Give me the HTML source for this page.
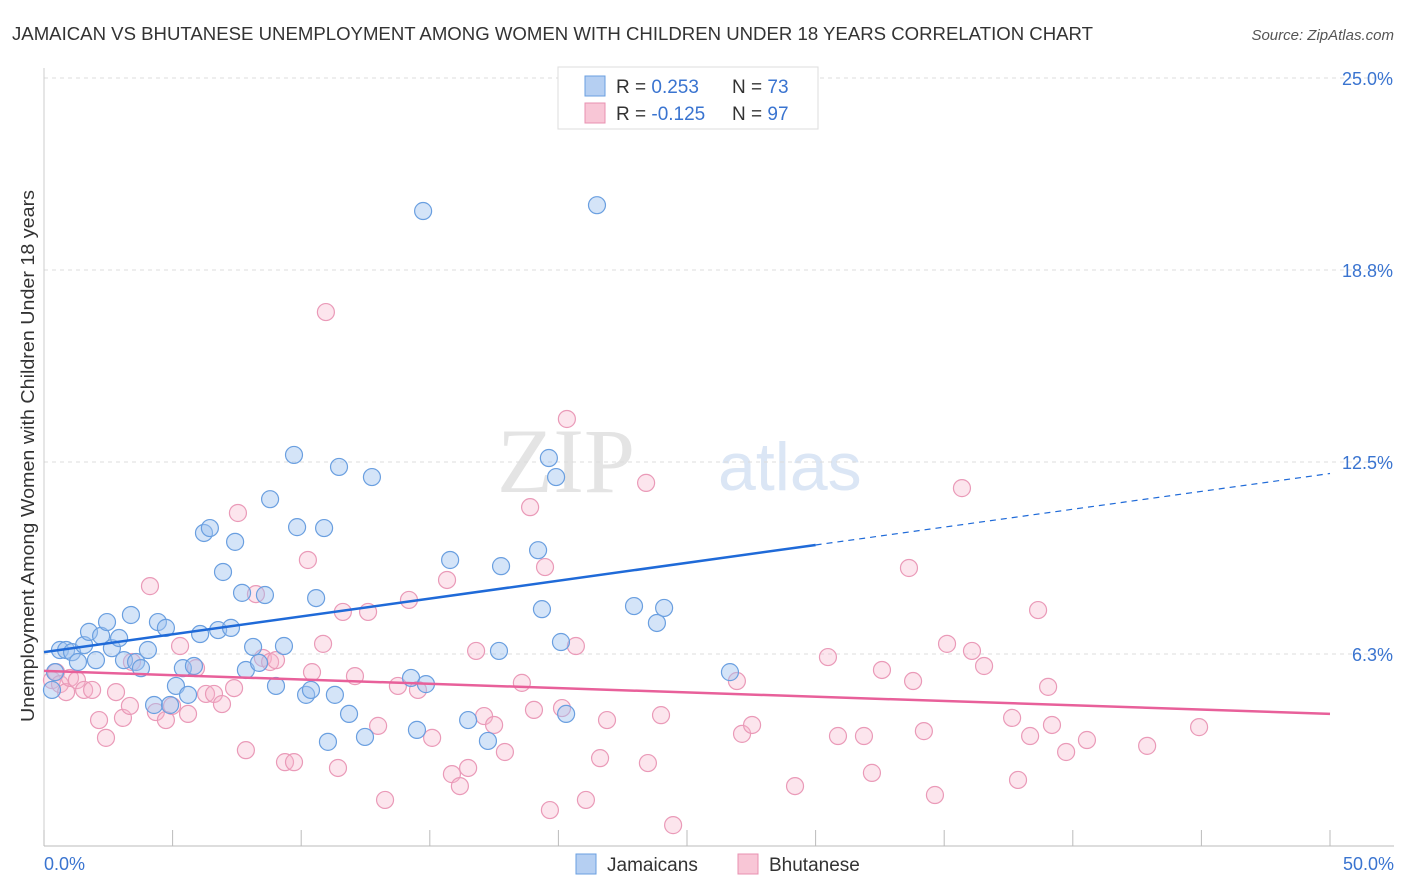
<!DOCTYPE html>
<html><head><meta charset="utf-8">
<style>
body{margin:0;background:#fff;font-family:"Liberation Sans",sans-serif;}
svg{display:block}
</style></head>
<body>
<svg id="chart" width="1406" height="892">
<text x="12" y="40" font-size="18" fill="#333" textLength="1081" lengthAdjust="spacingAndGlyphs">JAMAICAN VS BHUTANESE UNEMPLOYMENT AMONG WOMEN WITH CHILDREN UNDER 18 YEARS CORRELATION CHART</text>
<text x="1394" y="40" font-size="15" fill="#555" text-anchor="end" font-style="italic">Source: ZipAtlas.com</text>
<text x="635" y="492" font-size="92" fill="#e4e4e4" text-anchor="end" font-family="Liberation Serif,serif">ZIP</text>
<text x="718" y="490" font-size="68" fill="#dbe6f5">atlas</text>
<text x="0" y="0" transform="translate(34,456) rotate(-90)" font-size="18" fill="#333" text-anchor="middle" textLength="532" lengthAdjust="spacingAndGlyphs">Unemployment Among Women with Children Under 18 years</text>
<g id="grid"></g><g id="marks"></g>
<g>
<rect x="558" y="67" width="260" height="62" fill="#fff" stroke="#ddd"/>
<rect x="585" y="76" width="20" height="20" fill="#b5cff2" stroke="#6a9fe0"/>
<rect x="585" y="103" width="20" height="20" fill="#f8c6d6" stroke="#e890b0"/>
<text x="616" y="93" font-size="19" fill="#333">R = <tspan fill="#3a74d0"> 0.253</tspan><tspan x="732">N = </tspan><tspan fill="#3a74d0">73</tspan></text>
<text x="616" y="120" font-size="19" fill="#333">R = <tspan fill="#3a74d0">-0.125</tspan><tspan x="732">N = </tspan><tspan fill="#3a74d0">97</tspan></text>
</g>
<g>
<rect x="576" y="854" width="20" height="20" fill="#b5cff2" stroke="#6a9fe0"/>
<text x="607" y="871" font-size="19" fill="#333">Jamaicans</text>
<rect x="738" y="854" width="20" height="20" fill="#f8c6d6" stroke="#e890b0"/>
<text x="769" y="871" font-size="19" fill="#333">Bhutanese</text>
</g>
</svg>
<script>
const yTicks=[6.25,12.5,18.75,25];
const yTickLabels=["6.3%","12.5%","18.8%","25.0%"];
const xTickLabels=["0.0%","50.0%"];
const jamX=[0.31,0.43,0.62,0.86,1.09,1.32,1.56,1.75,2.02,2.22,2.45,2.64,2.92,3.11,3.38,3.58,3.77,4.04,4.28,4.43,4.74,4.90,5.13,5.40,5.60,5.83,6.07,6.22,6.45,6.77,6.96,7.27,7.43,7.70,7.85,8.13,8.36,8.59,8.79,9.02,9.33,9.72,9.84,10.19,10.38,10.58,10.89,11.04,11.31,11.47,11.86,12.48,12.75,14.27,14.50,14.74,14.85,15.79,16.49,17.26,17.69,17.77,19.21,19.36,19.63,19.91,20.10,20.30,21.50,22.94,23.83,24.11,26.67];
const jamY=[5.08,5.66,6.38,6.38,6.31,5.99,6.54,6.97,6.05,6.84,7.29,6.44,6.77,6.05,7.52,5.99,5.79,6.38,4.59,7.29,7.10,4.59,5.21,5.79,4.92,5.86,6.90,10.19,10.35,7.03,8.92,7.10,9.90,8.24,5.73,6.48,5.96,8.17,11.29,5.21,6.51,12.73,10.38,4.92,5.08,8.07,10.35,3.39,4.92,12.34,4.30,3.55,12.01,5.47,3.78,20.67,5.27,9.31,4.10,3.42,6.35,9.11,9.63,7.71,12.63,12.01,6.64,4.30,20.86,7.81,7.26,7.75,5.66];
const bhuX=[0.31,0.47,0.62,0.86,1.01,1.28,1.56,1.87,2.14,2.41,2.80,3.07,3.34,3.42,4.12,4.35,4.74,4.98,5.29,5.60,5.91,6.30,6.61,6.92,7.39,7.54,7.85,8.24,8.51,8.79,9.02,9.37,9.72,10.26,10.42,10.85,10.96,11.43,11.62,12.09,12.60,12.99,13.26,13.76,14.19,14.54,15.09,15.67,15.86,16.17,16.49,16.80,17.11,17.50,17.92,18.58,18.90,19.05,19.48,19.67,20.14,20.33,20.68,21.07,21.62,21.89,23.41,23.48,23.99,24.46,26.94,27.14,27.53,29.20,30.48,30.87,31.88,32.19,32.58,33.63,33.79,34.21,34.64,35.11,35.69,36.08,36.55,37.64,37.87,38.34,38.65,39.04,39.19,39.74,40.55,42.89,44.91];
const bhuY=[5.40,5.66,5.27,5.01,5.47,5.40,5.08,5.08,4.10,3.52,5.01,4.17,4.56,5.99,8.46,4.36,4.10,4.56,6.51,4.30,5.79,4.95,4.95,4.62,5.14,10.84,3.12,8.20,6.12,5.99,6.05,2.73,2.73,9.31,5.66,6.58,17.38,2.54,7.62,5.53,7.62,3.91,1.50,5.21,8.01,5.08,3.52,8.66,2.34,1.95,2.54,6.35,4.23,3.94,3.06,5.31,11.03,4.43,9.08,1.17,4.49,13.90,6.51,1.50,2.86,4.10,11.82,2.70,4.26,0.68,5.37,3.65,3.94,1.95,6.15,3.58,3.58,2.38,5.73,9.05,5.37,3.74,1.66,6.58,11.65,6.35,5.86,4.17,2.15,3.58,7.68,5.18,3.94,3.06,3.45,3.26,3.87];
const jamTrend=[6.31,0.1163];
const bhuTrend=[5.70,-0.028];

const NS="http://www.w3.org/2000/svg";
const X0=44,X1=1330,Y0=846,YTOP=78;
const sx=v=>X0+(v/50)*(X1-X0);
const sy=v=>Y0-(v/25)*(Y0-YTOP);
function mk(tag,attrs,parent){const e=document.createElementNS(NS,tag);for(const k in attrs)e.setAttribute(k,attrs[k]);parent.appendChild(e);return e;}
const grid=document.getElementById('grid'),marks=document.getElementById('marks');
yTicks.forEach((t,i)=>{
 const l=mk('line',{x1:X0,x2:1394,y1:sy(t),y2:sy(t),stroke:'#dcdcdc','stroke-dasharray':'4,4'},grid);
 
 
 const tx=mk('text',{x:1393,y:sy(t)+7,'font-size':18,fill:'#3a74d0','text-anchor':'end'},grid);
 tx.textContent=yTickLabels[i];
 
 
});
const ax=mk('line',{x1:X0,x2:1394,y1:Y0,y2:Y0,stroke:'#bbb'},grid);


const ay=mk('line',{x1:X0,x2:X0,y1:68,y2:Y0,stroke:'#ccc'},grid);


for(let i=0;i<=10;i++){
 const t=mk('line',{x1:sx(i*5),x2:sx(i*5),y1:Y0,y2:Y0-16,stroke:'#bbb'},grid);
 
 
}
[[0,'start',44],[50,'end',1394]].forEach((d,i)=>{
 const t=mk('text',{x:d[2],y:870,'font-size':18,fill:'#3a74d0','text-anchor':d[1]},grid);
 t.textContent=xTickLabels[i];
 
 
});
function dots(xs,ys,fill,stroke,name){
 xs.forEach((x,i)=>{
  const c=mk('circle',{cx:sx(x),cy:sy(ys[i]),r:8.5,fill:fill,stroke:stroke,'stroke-width':1.2},marks);
  
  
 });
}
dots(bhuX,bhuY,'rgba(246,180,202,0.35)','#ea9ab8','bhutanese-point');
dots(jamX,jamY,'rgba(160,196,240,0.45)','#6a9fe0','jamaican-point');
const bl=mk('line',{x1:sx(0),y1:sy(jamTrend[0]),x2:sx(30),y2:sy(jamTrend[0]+jamTrend[1]*30),stroke:'#1f6ad8','stroke-width':2.5},marks);


const bd=mk('line',{x1:sx(30),y1:sy(jamTrend[0]+jamTrend[1]*30),x2:sx(50),y2:sy(jamTrend[0]+jamTrend[1]*50),stroke:'#1f6ad8','stroke-width':1.2,'stroke-dasharray':'6,5'},marks);


const pl=mk('line',{x1:sx(0),y1:sy(bhuTrend[0]),x2:sx(50),y2:sy(bhuTrend[0]+bhuTrend[1]*50),stroke:'#e8609a','stroke-width':2.5},marks);


</script>
</body></html>
